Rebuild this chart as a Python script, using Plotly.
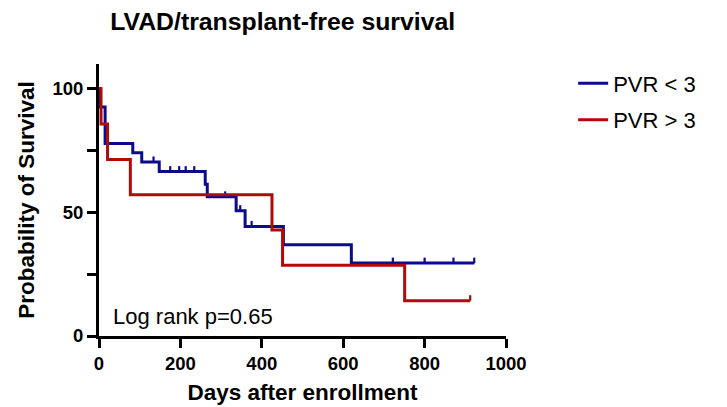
import plotly.graph_objects as go

# Kaplan-Meier steps (days, % surviving)
blue_days = [0, 3, 15, 83, 105, 148, 261, 266, 337, 359, 453, 620, 922]
blue_surv = [100, 92.6, 77.8, 74.1, 70.4, 66.5, 61.4, 56.3, 50.7, 44.3, 36.9, 29.5, 29.5]
blue_censor_days = [134, 175, 197, 213, 234, 310, 347, 375, 722, 800, 871, 922]
blue_censor_surv = [70.4, 66.5, 66.5, 66.5, 66.5, 56.3, 50.7, 44.3, 29.5, 29.5, 29.5, 29.5]

red_days = [0, 5, 21, 77, 425, 451, 751, 912]
red_surv = [100, 85.7, 71.4, 57.1, 42.9, 28.6, 14.3, 14.3]
red_censor_days = [912]
red_censor_surv = [14.3]

x_ticks = [0, 200, 400, 600, 800, 1000]
y_ticks = [0, 25, 50, 75, 100]
y_tick_text = ["0", "", "50", "", "100"]

BLUE = "#0b0b8c"
RED = "#b00a0a"
FONT = "Arial, Liberation Sans, sans-serif"

fig = go.Figure()

groups = [
    ("PVR < 3", blue_days, blue_surv, blue_censor_days, blue_censor_surv, BLUE, "g1"),
    ("PVR > 3", red_days, red_surv, red_censor_days, red_censor_surv, RED, "g2"),
]
for name, d, s, cd, cs, col, grp in groups:
    fig.add_trace(go.Scatter(
        x=d, y=s, mode="lines", line=dict(color=col, width=3, shape="hv"),
        name=name, legendgroup=grp,
    ))
    # censor ticks pointing upward
    fig.add_trace(go.Scatter(
        x=cd, y=cs, mode="markers", marker=dict(size=1, color=col),
        error_y=dict(type="data", symmetric=False, array=[2.2] * len(cd),
                     arrayminus=[0] * len(cd), width=0, thickness=2.2, color=col),
        showlegend=False, legendgroup=grp, hoverinfo="skip",
    ))

# page body has an 8px margin, so the figure is 8px smaller than the window
fig.update_layout(
    width=719, height=399,
    paper_bgcolor="white", plot_bgcolor="white",
    margin=dict(l=91, r=221, t=56, b=71),
    font=dict(family=FONT, color="black"),
    title=dict(text="<b>LVAD/transplant-free survival</b>", x=0.382, xanchor="center",
               y=0.967, yanchor="middle", font=dict(size=24.8, family=FONT)),
    legend=dict(x=1.165, y=1.006, xanchor="left", yanchor="top",
                font=dict(size=22, family=FONT), tracegroupgap=5,
                bgcolor="rgba(0,0,0,0)"),
    showlegend=True,
)
fig.update_xaxes(
    range=[0, 1000], tickvals=x_ticks, showgrid=False, zeroline=False, automargin=False,
    showline=True, linecolor="black", linewidth=3,
    ticks="outside", ticklen=9, tickwidth=3, tickcolor="black",
    tickfont=dict(size=18.5, family=FONT, weight="bold"),
    title=dict(text="<b>Days after enrollment</b>", font=dict(size=22.5, family=FONT), standoff=12),
)
fig.update_yaxes(
    range=[0, 110], tickvals=y_ticks, ticktext=y_tick_text, showgrid=False, zeroline=False,
    automargin=False, showline=True, linecolor="black", linewidth=3,
    ticks="outside", ticklen=9, tickwidth=3, tickcolor="black",
    tickfont=dict(size=18.5, family=FONT, weight="bold"),
    title=dict(text="<b>Probability of Survival</b>", font=dict(size=22.5, family=FONT), standoff=12),
)

fig.add_annotation(
    text="Log rank p=0.65", xref="paper", yref="paper", x=0.03, y=0.07,
    xanchor="left", yanchor="middle", showarrow=False, font=dict(size=22, family=FONT),
)

fig.write_html("out.html")
